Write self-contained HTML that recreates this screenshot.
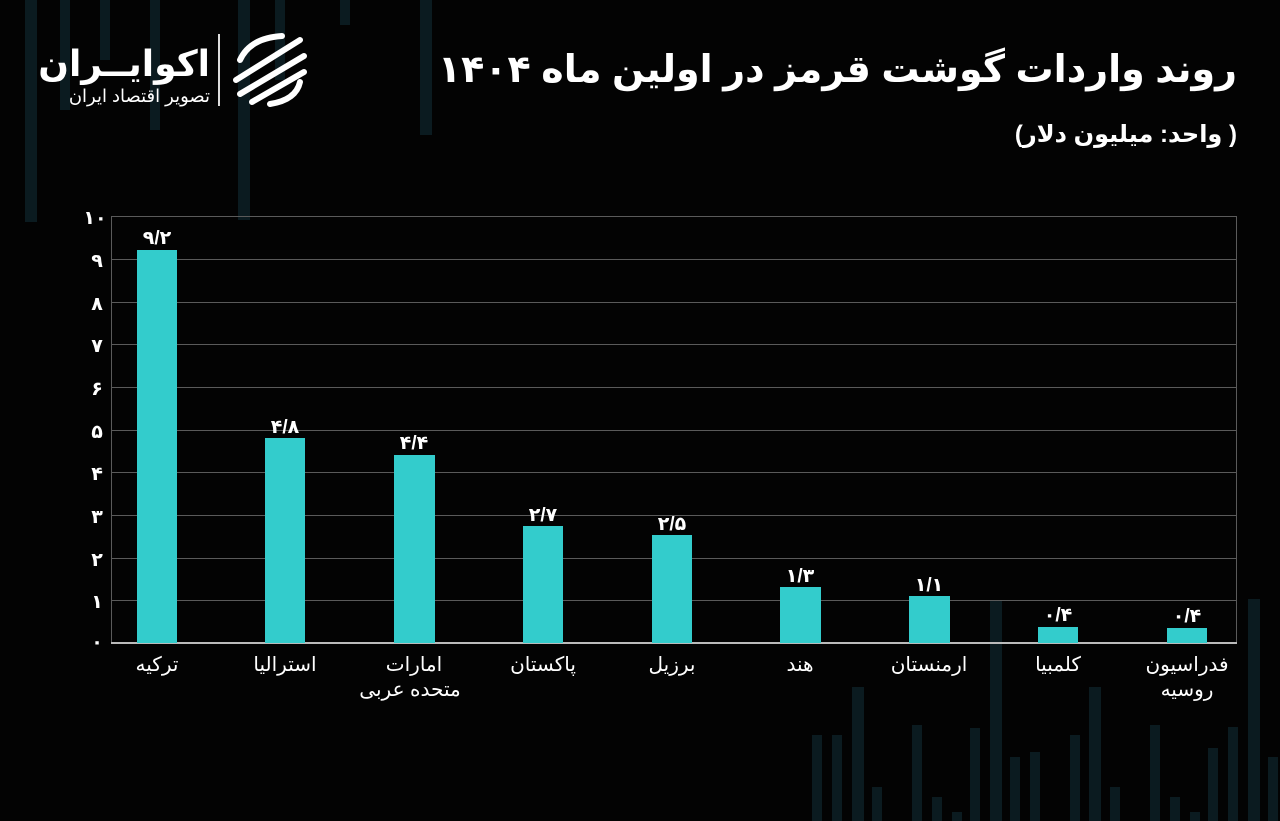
<!DOCTYPE html>
<html><head><meta charset="utf-8"><style>
html,body{margin:0;padding:0;background:#030303;}
svg{display:block}
text{font-family:"Liberation Sans","Noto Sans CJK SC","DejaVu Sans",sans-serif;fill:#fff;}
</style></head><body>
<svg width="1280" height="821" viewBox="0 0 1280 821" xmlns="http://www.w3.org/2000/svg">
<rect width="1280" height="821" fill="#030303"/>
<g fill="#0b1b20">
<rect x="25" y="0" width="12" height="222"/>
<rect x="60" y="0" width="10" height="110"/>
<rect x="100" y="0" width="10" height="60"/>
<rect x="150" y="0" width="10" height="130"/>
<rect x="238" y="0" width="12" height="220"/>
<rect x="275" y="0" width="10" height="80"/>
<rect x="340" y="0" width="10" height="25"/>
<rect x="420" y="0" width="12" height="135"/>
<rect x="812" y="735" width="10" height="90"/>
<rect x="832" y="735" width="10" height="90"/>
<rect x="852" y="687" width="12" height="140"/>
<rect x="872" y="787" width="10" height="40"/>
<rect x="912" y="725" width="10" height="100"/>
<rect x="932" y="797" width="10" height="30"/>
<rect x="952" y="812" width="10" height="10"/>
<rect x="970" y="728" width="10" height="100"/>
<rect x="990" y="600" width="12" height="225"/>
<rect x="1010" y="757" width="10" height="70"/>
<rect x="1030" y="752" width="10" height="70"/>
<rect x="1070" y="735" width="10" height="90"/>
<rect x="1089" y="687" width="12" height="140"/>
<rect x="1110" y="787" width="10" height="40"/>
<rect x="1150" y="725" width="10" height="100"/>
<rect x="1170" y="797" width="10" height="30"/>
<rect x="1190" y="812" width="10" height="10"/>
<rect x="1208" y="748" width="10" height="80"/>
<rect x="1228" y="727" width="10" height="100"/>
<rect x="1248" y="599" width="12" height="225"/>
<rect x="1268" y="757" width="10" height="70"/>
</g>
<text x="1237" y="82" text-anchor="end" font-size="38" font-weight="bold">روند واردات گوشت قرمز در اولین ماه ۱۴۰۴</text>
<text x="1237" y="142" text-anchor="start" direction="rtl" font-size="24" font-weight="bold">( واحد: میلیون دلار)</text>
<text x="210" y="76" text-anchor="end" font-size="36" font-weight="bold">اکوایــران</text>
<text x="210" y="102" text-anchor="end" font-size="18">تصویر اقتصاد ایران</text>
<rect x="218" y="34" width="2" height="72" fill="#ddd"/>
<g fill="none" stroke="#fff" stroke-width="6" stroke-linecap="round">
<path d="M240 60 Q250 38 282 36"/><path d="M236 80 L300 40"/><path d="M240 94 L304 56"/><path d="M252 102 L304 72"/><path d="M270 104 Q296 100 300 82"/>
</g>
<g stroke="#5a5a5a" stroke-width="1">
<line x1="111" y1="216.5" x2="1237" y2="216.5"/><line x1="111" y1="259.5" x2="1237" y2="259.5"/>
<line x1="111" y1="302.5" x2="1237" y2="302.5"/><line x1="111" y1="344.5" x2="1237" y2="344.5"/>
<line x1="111" y1="387.5" x2="1237" y2="387.5"/><line x1="111" y1="430.5" x2="1237" y2="430.5"/>
<line x1="111" y1="472.5" x2="1237" y2="472.5"/><line x1="111" y1="515.5" x2="1237" y2="515.5"/>
<line x1="111" y1="558.5" x2="1237" y2="558.5"/><line x1="111" y1="600.5" x2="1237" y2="600.5"/>
<line x1="111.5" y1="216" x2="111.5" y2="643"/><line x1="1236.5" y1="216" x2="1236.5" y2="643"/>
</g>
<line x1="111" y1="643" x2="1237" y2="643" stroke="#bbb" stroke-width="2"/>
<g font-size="19" text-anchor="middle" font-weight="bold">
<text x="95" y="224">۱۰</text><text x="97" y="267">۹</text><text x="97" y="310">۸</text><text x="97" y="352">۷</text>
<text x="97" y="395">۶</text><text x="97" y="438">۵</text><text x="97" y="480">۴</text><text x="97" y="523">۳</text>
<text x="97" y="566">۲</text><text x="97" y="608">۱</text><text x="97" y="648">۰</text>
</g>
<g fill="#33cccc">
<rect x="137" y="250" width="40" height="393"/>
<rect x="265" y="438" width="40" height="205"/>
<rect x="394" y="455" width="41" height="188"/>
<rect x="523" y="526" width="40" height="117"/>
<rect x="652" y="535" width="40" height="108"/>
<rect x="780" y="587" width="41" height="56"/>
<rect x="909" y="596" width="41" height="47"/>
<rect x="1038" y="627" width="40" height="16"/>
<rect x="1167" y="628" width="40" height="15"/>
</g>
<g font-size="19" text-anchor="middle" font-weight="bold">
<text x="157" y="244">۹/۲</text><text x="285" y="433">۴/۸</text><text x="414" y="449">۴/۴</text>
<text x="543" y="521">۲/۷</text><text x="672" y="530">۲/۵</text><text x="800" y="582">۱/۳</text>
<text x="929" y="591">۱/۱</text><text x="1058" y="621">۰/۴</text><text x="1187" y="622">۰/۴</text>
</g>
<g font-size="20" text-anchor="middle">
<text x="157" y="671">ترکیه</text><text x="285" y="671">استرالیا</text>
<text x="414" y="671">امارات</text><text x="410" y="696">متحده عربی</text>
<text x="543" y="671">پاکستان</text><text x="672" y="671">برزیل</text><text x="800" y="671">هند</text>
<text x="929" y="671">ارمنستان</text><text x="1058" y="671">کلمبیا</text>
<text x="1187" y="671">فدراسیون</text><text x="1187" y="696">روسیه</text>
</g>
</svg>
</body></html>
